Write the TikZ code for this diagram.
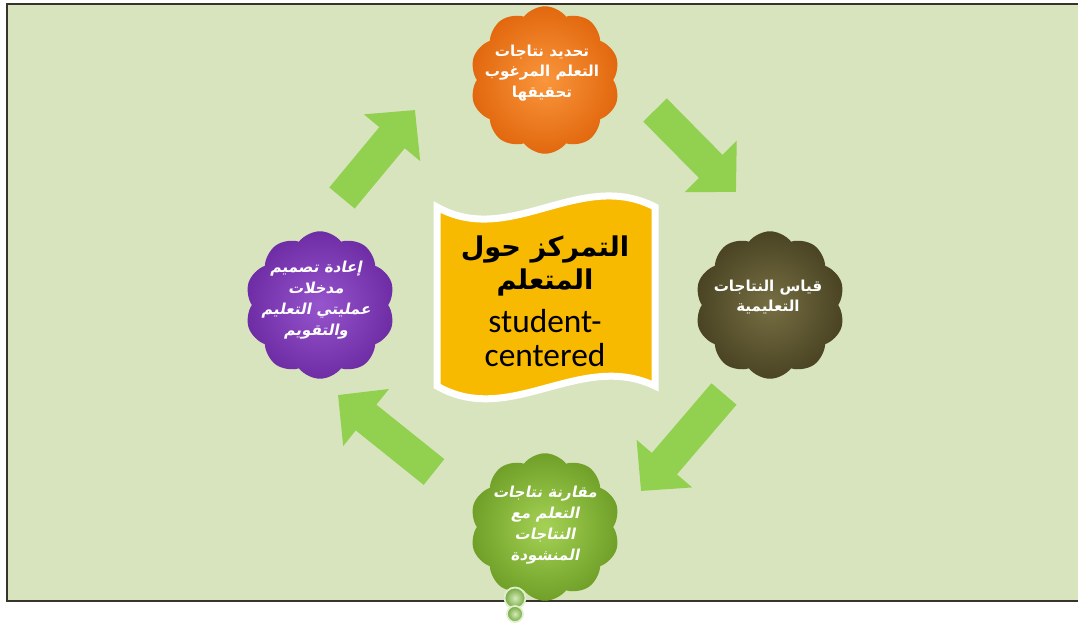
\documentclass[tikz,border=0pt]{standalone}
\usepackage{fontspec}
\setmainfont{Carlito}
\newfontfamily\arabicfont[Script=Arabic]{DejaVu Sans Bold}
\newfontfamily\arabicslant[Script=Arabic,FakeSlant=0.2]{DejaVu Sans Bold}
\TeXXeTstate=1
\usepackage{xcolor}
\usepackage{tikz}
\usetikzlibrary{shapes.symbols,arrows.meta,shadows}

\definecolor{pagegreen}{RGB}{216,228,189}
\definecolor{arrowgreen}{RGB}{146,208,80}
\definecolor{bannergold}{RGB}{247,186,0}

\begin{document}
\begin{tikzpicture}[
    x=0.02cm, y=-0.02cm,
    % Clouds
    cloudbox/.style={cloud, cloud puffs=10, cloud puff arc=105, aspect=1, minimum width=3cm, minimum height=2.95cm, inner sep=0pt, shading=radial},
    cloudtext/.style={align=center, text=white, font=\arabicfont\fontsize{8.6}{11.8}\selectfont},
    slanttext/.style={align=center, text=white, font=\arabicslant\fontsize{8.6}{11.8}\selectfont},
    % Arrows
    flow/.style={arrowgreen, line width=0.66cm, -{Triangle[length=0.72cm, width=1.42cm]}},
    % Bubbles
    bubble/.style={circle, draw=white!70!arrowgreen, line width=1pt, inner color=white!60!arrowgreen, outer color=arrowgreen!80!black, inner sep=0pt}
]
\useasboundingbox (0,0) rectangle (1078,629);

% Background panel
\fill[pagegreen] (7,4) rectangle (1078,601);
\draw[line width=1.2pt, black!80!olive] (1078,4) -- (7,4) -- (7,601) -- (1078,601);

% Arrow end points
\coordinate (tailA) at (342,198);
\coordinate (tipA) at (415,110);
\coordinate (tailB) at (655,110);
\coordinate (tipB) at (736,192);
\coordinate (tailC) at (724,394);
\coordinate (tipC) at (641,491);
\coordinate (tailD) at (434,472);
\coordinate (tipD) at (338,395);

% Cycle arrows
\draw[flow] (tailA) -- (tipA);
\draw[flow] (tailB) -- (tipB);
\draw[flow] (tailC) -- (tipC);
\draw[flow] (tailD) -- (tipD);

% Central banner
\path[fill=bannergold, draw=white, line width=0.14cm, drop shadow={opacity=0.35, shadow xshift=0.05cm, shadow yshift=-0.05cm}]
    (437,207) .. controls (510,248) and (580,168) .. (655,207)
    -- (655,386) .. controls (580,350) and (510,428) .. (437,386) -- cycle;
\node[font=\arabicfont\fontsize{15.5}{19}\selectfont, align=center] (arabTitle) at (545,266)
    {\beginR التمركز حول\endR\\ \beginR المتعلم\endR};
\node[font=\fontsize{19}{19}\selectfont, align=center] (engTitle) at (545,338)
    {student-\\centered};

% Clouds
\node[cloudbox, inner color={rgb,255:red,250;green,150;blue,60}, outer color={rgb,255:red,226;green,104;blue,14}] (outcomeCloud) at (545,80) {};
\node[cloudbox, inner color={rgb,255:red,118;green,110;blue,66}, outer color={rgb,255:red,74;green,68;blue,36}] (measureCloud) at (770,305) {};
\node[cloudbox, inner color={rgb,255:red,150;green,85;blue,205}, outer color={rgb,255:red,110;green,45;blue,165}] (redesignCloud) at (320,305) {};
\node[cloudbox, inner color={rgb,255:red,165;green,210;blue,85}, outer color={rgb,255:red,112;green,160;blue,40}] (compareCloud) at (545,527) {};

% Thought bubbles below the green cloud
\node[bubble, minimum size=0.42cm] (bubbleA) at (515,598) {};
\node[bubble, minimum size=0.32cm] (bubbleB) at (515,614) {};

% Cloud labels
\node[cloudtext] (outcomeText) at (542,73)
    {\beginR تحديد نتاجات\endR\\ \beginR التعلم المرغوب\endR\\ \beginR تحقيقها\endR};
\node[cloudtext] (measureText) at (768,297)
    {\beginR قياس النتاجات\endR\\ \beginR التعليمية\endR};
\node[slanttext] (redesignText) at (316,300)
    {\beginR إعادة تصميم\endR\\ \beginR مدخلات\endR\\ \beginR عمليتي التعليم\endR\\ \beginR والتقويم\endR};
\node[slanttext] (compareText) at (545,525)
    {\beginR مقارنة  نتاجات\endR\\ \beginR التعلم مع\endR\\ \beginR النتاجات\endR\\ \beginR المنشودة\endR};
\end{tikzpicture}
\end{document}
